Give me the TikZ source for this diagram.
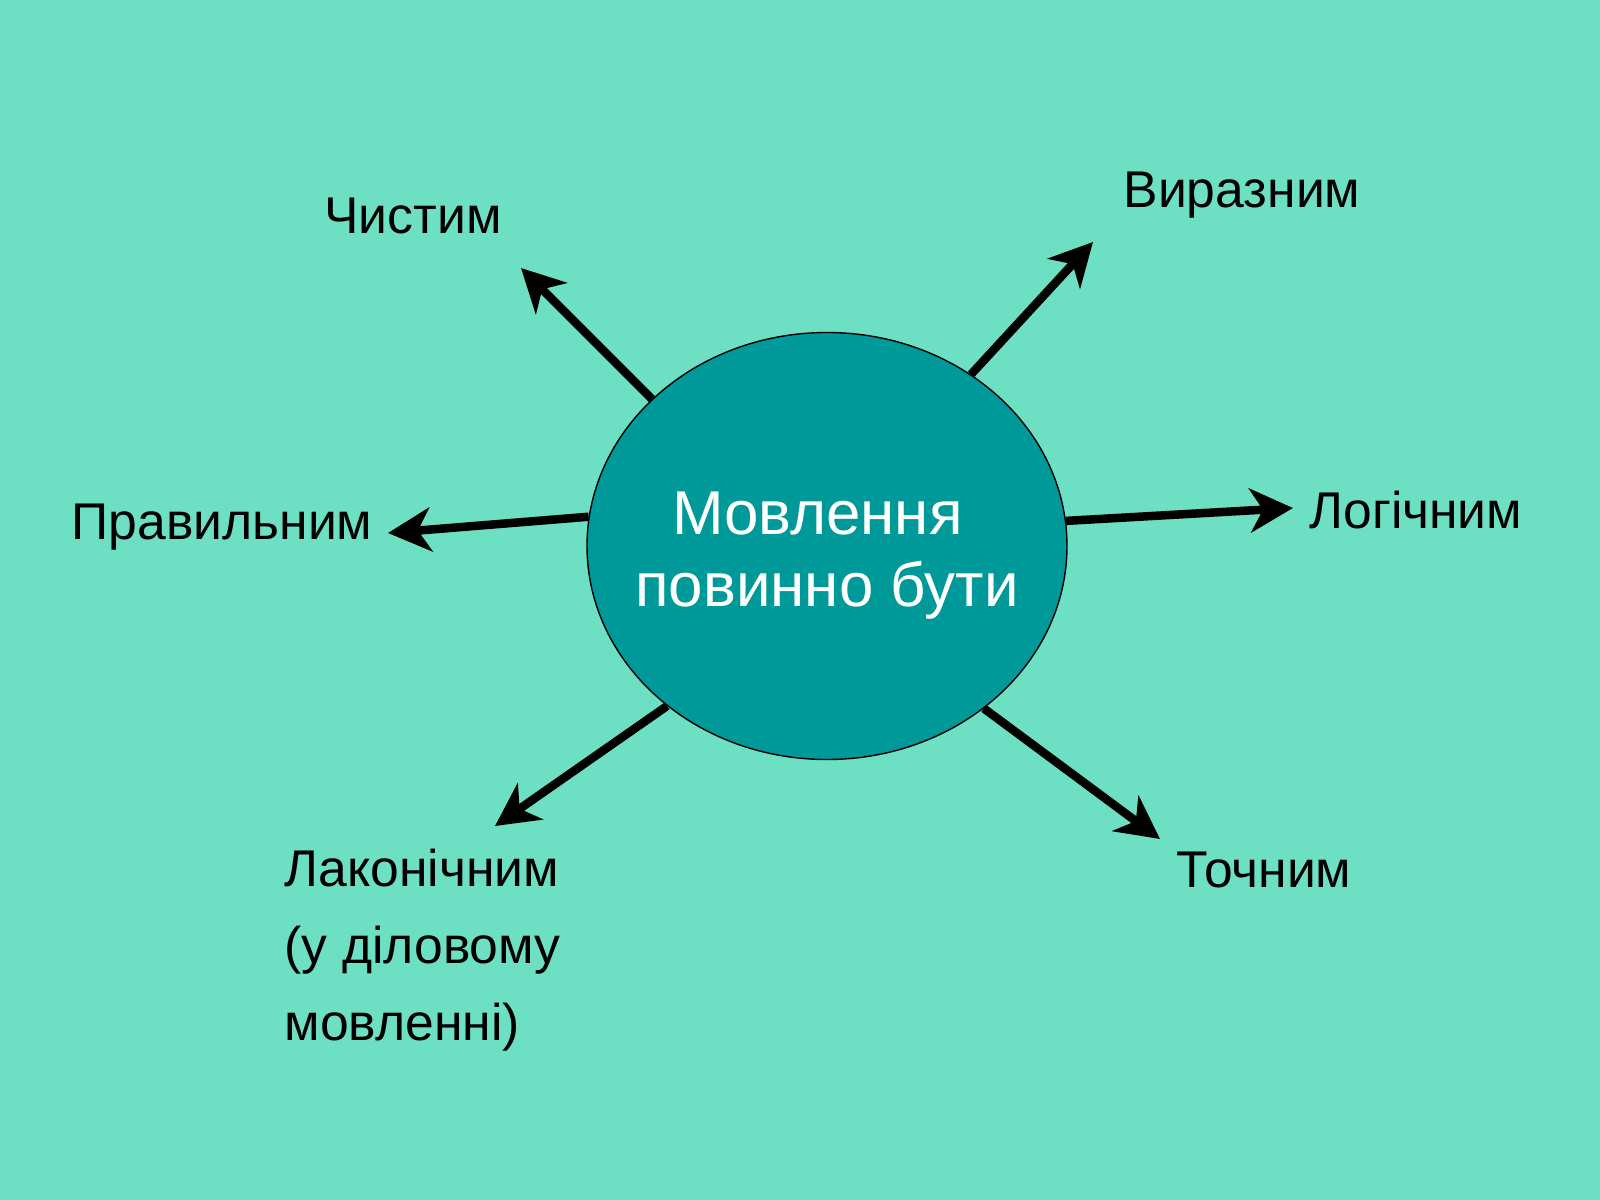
\documentclass[tikz,border=0pt]{standalone}
\usepackage{fontspec}
\setmainfont{Liberation Sans}
\usetikzlibrary{arrows.meta, positioning, shapes.geometric}
\definecolor{bgaqua}{RGB}{109,224,196}
\definecolor{speechteal}{RGB}{0,153,153}
\tikzset{
  centre/.style = {ellipse, draw, thin, fill=speechteal, minimum width=4.8cm,
                   minimum height=4.27cm, inner sep=0pt},
  centretext/.style = {inner sep=0pt, text=white, align=center,
                   font=\fontsize{17.6}{20.5}\selectfont},
  quality/.style = {inner sep=0pt, font=\fontsize{14.7}{22}\selectfont},
  ray/.style     = {-{Stealth[length=4.3mm, width=4.4mm, inset=1.3mm]},
                    line width=0.85mm, black},
}

\begin{document}
\begin{tikzpicture}[x=0.1mm, y=-0.1mm]
    % --- canvas -------------------------------------------------------
    \fill[bgaqua] (0,0) rectangle (1600,1200);
    \useasboundingbox (0,0) rectangle (1600,1200);
    % --- centre -------------------------------------------------------
    \node[centre] (speech) at (827,546) {};
    \node[centretext] (speechtext) at (827,556) {Мовлення\kern1.9mm\\повинно бути};
    % --- qualities ----------------------------------------------------
    \node[quality] (clean)   at (413,216) {Чистим};
    \node[quality] (vivid)   at (1242,195) {Виразним};
    \node[quality] (correct) at (222,527) {Правильним};
    \node[quality] (logical) at (1416,510) {Логічним};
    \node[quality, align=left, anchor=west] (concise) at (284,950)
        {Лаконічним\\(у діловому\\мовленні)};
    \node[quality] (exact)   at (1264,870) {Точним};
    % --- arrow tips ---------------------------------------------------
    \coordinate (tclean)   at (521,268);
    \coordinate (tvivid)   at (1093,242);
    \coordinate (tcorrect) at (388,533);
    \coordinate (tlogical) at (1293,508);
    \coordinate (tconcise) at (495,826);
    \coordinate (texact)   at (1160,839);
    % --- rays ---------------------------------------------------------
    \draw[ray] (speech.140)   -- (tclean);
    \draw[ray] (speech.50.1)  -- (tvivid);
    \draw[ray] (speech.173.9) -- (tcorrect);
    \draw[ray] (speech.6.3)   -- (tlogical);
    \draw[ray] (speech.225.3) -- (tconcise);
    \draw[ray] (speech.314.9) -- (texact);
\end{tikzpicture}
\end{document}
